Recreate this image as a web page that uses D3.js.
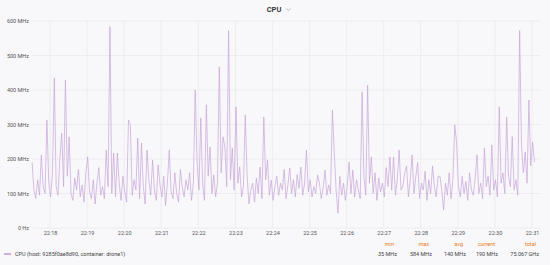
<!DOCTYPE html>
<html>
<head>
<meta charset="utf-8">
<script src="https://cdn.jsdelivr.net/npm/d3@7"></script>
<style>
  body { margin: 0; background: #f8f8fa; }
  svg { display: block; font-family: Roboto, "Noto Sans", sans-serif; }
</style>
</head>
<body>
<svg id="canvas" width="550" height="265"></svg>
<script>
// CPU samples in MHz, one every 3 seconds starting 22:17:31
const cpuValues = [
  190, 110, 85, 140, 95, 212, 120, 100, 313, 130,
  90, 160, 435, 120, 95, 203, 275, 120, 429, 150,
  264, 100, 80, 145, 110, 170, 90, 125, 75, 160,
  206, 105, 85, 140, 70, 130, 175, 95, 120, 85,
  226, 120, 584, 100, 217, 90, 217, 130, 80, 150,
  105, 75, 313, 298, 95, 140, 110, 261, 85, 246,
  120, 70, 226, 140, 95, 197, 110, 80, 183, 125,
  90, 150, 65, 130, 226, 105, 85, 160, 100, 75,
  170, 120, 90, 140, 110, 160, 80, 130, 400, 190,
  110, 319, 130, 80, 357, 150, 235, 100, 154, 90,
  130, 467, 160, 264, 235, 120, 572, 140, 232, 110,
  351, 130, 177, 90, 120, 328, 150, 70, 110, 130,
  75, 145, 100, 177, 85, 322, 140, 197, 95, 139,
  80, 120, 150, 95, 130, 110, 170, 85, 125, 174,
  100, 140, 90, 155, 115, 177, 95, 130, 226, 105,
  140, 90, 120, 100, 154, 130, 85, 115, 168, 95,
  125, 100, 342, 217, 110, 43, 150, 95, 130, 80,
  120, 191, 100, 168, 90, 140, 110, 85, 394, 150,
  95, 414, 130, 206, 100, 160, 80, 145, 105, 130,
  90, 175, 120, 206, 110, 206, 95, 140, 226, 110,
  120, 160, 180, 90, 140, 212, 100, 150, 190, 85,
  130, 110, 165, 80, 140, 100, 180, 120, 90, 150,
  150, 110, 52, 130, 95, 160, 85, 140, 299, 246,
  120, 90, 150, 100, 135, 80, 160, 110, 95, 145,
  212, 100, 130, 85, 232, 120, 150, 95, 241, 110,
  140, 90, 351, 130, 160, 100, 322, 150, 120, 265,
  110, 140, 95, 572, 241, 160, 220, 130, 371, 180,
  249, 190
];

const yTicks = [0, 100, 200, 300, 400, 500, 600];
const yTickLabels = ['0 Hz', '100 MHz', '200 MHz', '300 MHz', '400 MHz', '500 MHz', '600 MHz'];

const statNames = ['min', 'max', 'avg', 'current', 'total'];
const statValues = ['35 MHz', '584 MHz', '140 MHz', '190 MHz', '75.067 GHz'];

const seriesName = 'CPU (host: 9285f0ae8d90, container: drone1)';

const startTime = new Date(2019, 0, 1, 22, 17, 31);
const stepSeconds = 3;

let data = cpuValues.map((v, i) => ({
    time: new Date(startTime.getTime() + i * stepSeconds * 1000),
    value: v
}));

let canvas = d3.select('#canvas');

const plotLeft = 32;
const plotRight = 540;
const plotTop = 21;
const plotBottom = 228;

let xScale = d3.scaleTime()
    .domain([new Date(2019, 0, 1, 22, 18), new Date(2019, 0, 1, 22, 31)])
    .range([50, 532]);

let yScale = d3.scaleLinear()
    .domain([0, 600])
    .range([plotBottom, plotTop]);

let minuteTicks = d3.timeMinute.range(new Date(2019, 0, 1, 22, 18), new Date(2019, 0, 1, 22, 31, 30));

// title
canvas.append('text')
    .attr('x', 274)
    .attr('y', 12)
    .attr('text-anchor', 'middle')
    .attr('font-size', 7.5)
    .attr('font-weight', 600)
    .attr('fill', '#333')
    .text('CPU');
// small dropdown chevron next to the title
canvas.append('path')
    .attr('d', 'M286.5,8.5 L288.5,10.5 L290.5,8.5')
    .attr('fill', 'none')
    .attr('stroke', '#999')
    .attr('stroke-width', 0.7);

// grid
canvas.append('g')
    .selectAll('line')
    .data(yTicks)
    .enter()
    .append('line')
    .attr('x1', plotLeft)
    .attr('x2', plotRight)
    .attr('y1', d => yScale(d))
    .attr('y2', d => yScale(d))
    .attr('stroke', '#eaeaef')
    .attr('stroke-width', 0.8);

canvas.append('g')
    .selectAll('line')
    .data(minuteTicks)
    .enter()
    .append('line')
    .attr('x1', d => xScale(d))
    .attr('x2', d => xScale(d))
    .attr('y1', plotTop)
    .attr('y2', plotBottom)
    .attr('stroke', '#eaeaef')
    .attr('stroke-width', 0.8);

// y axis labels
let yAxis = d3.axisLeft(yScale)
    .tickValues(yTicks)
    .tickSize(0)
    .tickPadding(0)
    .tickFormat((d, i) => yTickLabels[i]);

let yAxisGroup = canvas.append('g')
    .attr('transform', 'translate(29,0)')
    .call(yAxis);
yAxisGroup.select('.domain').remove();
yAxisGroup.selectAll('text')
    .attr('font-size', 5.5)
    .attr('font-family', 'Roboto, sans-serif')
    .attr('fill', '#555');

// x axis labels
let xAxis = d3.axisBottom(xScale)
    .tickValues(minuteTicks)
    .tickSize(0)
    .tickPadding(0)
    .tickFormat(d3.timeFormat('%H:%M'));

let xAxisGroup = canvas.append('g')
    .attr('transform', 'translate(0,231)')
    .call(xAxis);
xAxisGroup.select('.domain').remove();
xAxisGroup.selectAll('text')
    .attr('font-size', 5.5)
    .attr('font-family', 'Roboto, sans-serif')
    .attr('fill', '#555');

// series line
let line = d3.line()
    .x(d => xScale(d.time))
    .y(d => yScale(d.value));

canvas.append('path')
    .datum(data)
    .attr('d', line)
    .attr('fill', 'none')
    .attr('stroke', '#c7a3da')
    .attr('stroke-width', 0.7)
    .attr('stroke-linejoin', 'round');

// legend
canvas.append('line')
    .attr('x1', 4)
    .attr('x2', 11)
    .attr('y1', 254)
    .attr('y2', 254)
    .attr('stroke', '#b07fc8')
    .attr('stroke-width', 1.2);

canvas.append('text')
    .attr('x', 15)
    .attr('y', 256)
    .attr('font-size', 5.5)
    .attr('fill', '#444')
    .text(seriesName);

const statRight = [394, 429, 463, 495, 536];

canvas.append('g')
    .selectAll('text')
    .data(statNames)
    .enter()
    .append('text')
    .attr('x', (d, i) => statRight[i])
    .attr('y', 246)
    .attr('text-anchor', 'end')
    .attr('font-size', 5.5)
    .attr('fill', '#eb7b18')
    .text(d => d);

canvas.append('g')
    .selectAll('text')
    .data(statValues)
    .enter()
    .append('text')
    .attr('x', (d, i) => statRight[i] + 3)
    .attr('y', 256)
    .attr('text-anchor', 'end')
    .attr('font-size', 5.5)
    .attr('fill', '#444')
    .text(d => d);
</script>
</body>
</html>
